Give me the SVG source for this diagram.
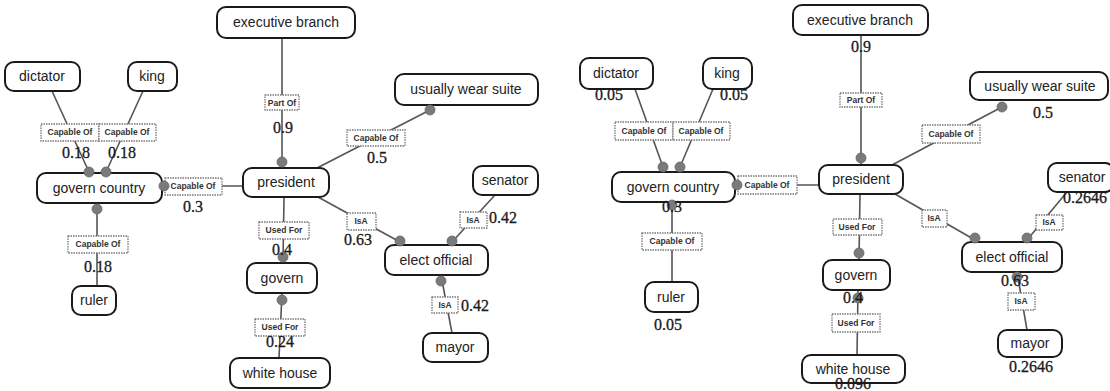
<svg xmlns="http://www.w3.org/2000/svg" width="1110" height="391" viewBox="0 0 1110 391">
  <style>
    .node rect { fill: #ffffff; stroke: #1a1a1a; stroke-width: 2; }
    .node text { font-family: "Liberation Sans", Arial, sans-serif; font-size: 14px; fill: #222; text-anchor: middle; }
    .edge { stroke: #555; stroke-width: 1.6; fill: none; }
    .dot { fill: #7a7a7a; stroke: #666; stroke-width: 0.8; }
    .rel rect { fill: #ffffff; stroke: #777; stroke-width: 1.3; stroke-dasharray: 1.5 1; }
    .rel text { font-family: "Liberation Sans", Arial, sans-serif; font-size: 8.5px; font-weight: bold; fill: #333; text-anchor: middle; }
    .w { font-family: "Liberation Serif", "Times New Roman", serif; font-size: 16px; fill: #1a1a1a; stroke: #1a1a1a; stroke-width: 0.3; text-anchor: middle; }
  </style>

  <!-- connector lines -->
  <g id="connectors">
    <!-- left graph -->
    <line class="edge" x1="52" y1="91" x2="89" y2="172"/>
    <line class="edge" x1="143" y1="91" x2="106" y2="172"/>
    <line class="edge" x1="282" y1="38" x2="282" y2="168"/>
    <line class="edge" x1="317" y1="168" x2="430" y2="110"/>
    <line class="edge" x1="162" y1="186" x2="243" y2="186"/>
    <line class="edge" x1="97" y1="203" x2="97" y2="286"/>
    <line class="edge" x1="284" y1="197" x2="283" y2="263"/>
    <line class="edge" x1="282" y1="293" x2="279" y2="358"/>
    <line class="edge" x1="318" y1="197" x2="400" y2="242"/>
    <line class="edge" x1="495" y1="195" x2="452" y2="242"/>
    <line class="edge" x1="441" y1="275" x2="452" y2="333"/>
    <!-- right graph -->
    <line class="edge" x1="635" y1="89" x2="663" y2="167"/>
    <line class="edge" x1="713" y1="89" x2="680" y2="167"/>
    <line class="edge" x1="861" y1="35" x2="861" y2="165"/>
    <line class="edge" x1="892" y1="165" x2="1002" y2="107"/>
    <line class="edge" x1="735" y1="185" x2="819" y2="185"/>
    <line class="edge" x1="672" y1="202" x2="672" y2="282"/>
    <line class="edge" x1="860" y1="194" x2="859" y2="260"/>
    <line class="edge" x1="858" y1="290" x2="857" y2="355"/>
    <line class="edge" x1="895" y1="194" x2="975" y2="240"/>
    <line class="edge" x1="1067" y1="192" x2="1027" y2="240"/>
    <line class="edge" x1="1017" y1="272" x2="1027" y2="330"/>
  </g>

  <!-- left graph nodes -->
  <g id="exec-branch-1" class="node"><rect x="217" y="7" width="138" height="31" rx="9"/><text x="286" y="27">executive branch</text></g>
  <g id="dictator-1" class="node"><rect x="5" y="62" width="75" height="29" rx="9"/><text x="42" y="81">dictator</text></g>
  <g id="king-1" class="node"><rect x="128" y="62" width="49" height="29" rx="9"/><text x="152" y="81">king</text></g>
  <g id="govern-country-1" class="node"><rect x="37" y="173" width="125" height="30" rx="9"/><text x="99" y="193">govern country</text></g>
  <g id="ruler-1" class="node"><rect x="72" y="286" width="44" height="29" rx="9"/><text x="94" y="305">ruler</text></g>
  <g id="president-1" class="node"><rect x="243" y="168" width="86" height="29" rx="9"/><text x="286" y="187">president</text></g>
  <g id="wear-suite-1" class="node"><rect x="395" y="74" width="143" height="31" rx="9"/><text x="466" y="94">usually wear suite</text></g>
  <g id="senator-1" class="node"><rect x="473" y="166" width="65" height="29" rx="9"/><text x="505" y="185">senator</text></g>
  <g id="elect-official-1" class="node"><rect x="385" y="245" width="103" height="30" rx="9"/><text x="436" y="265">elect official</text></g>
  <g id="govern-1" class="node"><rect x="247" y="263" width="70" height="30" rx="9"/><text x="282" y="283">govern</text></g>
  <g id="white-house-1" class="node"><rect x="230" y="358" width="100" height="30" rx="9"/><text x="280" y="378">white house</text></g>
  <g id="mayor-1" class="node"><rect x="423" y="333" width="65" height="29" rx="9"/><text x="455" y="352">mayor</text></g>

  <!-- right graph nodes -->
  <g id="exec-branch-2" class="node"><rect x="793" y="5" width="135" height="30" rx="9"/><text x="860" y="25">executive branch</text></g>
  <g id="dictator-2" class="node"><rect x="580" y="58" width="73" height="31" rx="9"/><text x="616" y="78">dictator</text></g>
  <g id="king-2" class="node"><rect x="703" y="58" width="49" height="31" rx="9"/><text x="727" y="78">king</text></g>
  <g id="govern-country-2" class="node"><rect x="612" y="172" width="123" height="30" rx="9"/><text x="673" y="192">govern country</text></g>
  <g id="ruler-2" class="node"><rect x="645" y="282" width="53" height="30" rx="9"/><text x="671" y="302">ruler</text></g>
  <g id="president-2" class="node"><rect x="819" y="165" width="84" height="29" rx="9"/><text x="861" y="184">president</text></g>
  <g id="wear-suite-2" class="node"><rect x="970" y="72" width="138" height="28" rx="9"/><text x="1040" y="91">usually wear suite</text></g>
  <g id="senator-2" class="node"><rect x="1048" y="163" width="66" height="29" rx="9"/><text x="1082" y="182">senator</text></g>
  <g id="elect-official-2" class="node"><rect x="962" y="242" width="100" height="30" rx="9"/><text x="1012" y="262">elect official</text></g>
  <g id="govern-2" class="node"><rect x="823" y="260" width="67" height="30" rx="9"/><text x="856" y="280">govern</text></g>
  <g id="white-house-2" class="node"><rect x="802" y="355" width="103" height="28" rx="9"/><text x="853" y="374">white house</text></g>
  <g id="mayor-2" class="node"><rect x="998" y="330" width="64" height="27" rx="9"/><text x="1030" y="348">mayor</text></g>

  <!-- relation labels on the connectors -->
  <g id="relations">
    <g class="rel"><rect x="265" y="95" width="34" height="15"/><text x="282" y="106">Part Of</text></g>
    <g class="rel"><rect x="347" y="130" width="58" height="16"/><text x="376" y="141">Capable Of</text></g>
    <g class="rel"><rect x="41" y="124" width="58" height="17"/><text x="70" y="135">Capable Of</text></g>
    <g class="rel"><rect x="99" y="124" width="57" height="17"/><text x="127" y="135">Capable Of</text></g>
    <g class="rel"><rect x="165" y="178" width="57" height="17"/><text x="193" y="189">Capable Of</text></g>
    <g class="rel"><rect x="68" y="236" width="60" height="17"/><text x="98" y="247">Capable Of</text></g>
    <g class="rel"><rect x="259" y="222" width="50" height="17"/><text x="284" y="233">Used For</text></g>
    <g class="rel"><rect x="255" y="319" width="50" height="17"/><text x="280" y="330">Used For</text></g>
    <g class="rel"><rect x="347" y="213" width="29" height="17"/><text x="361" y="224">IsA</text></g>
    <g class="rel"><rect x="460" y="212" width="27" height="16"/><text x="473" y="223">IsA</text></g>
    <g class="rel"><rect x="432" y="297" width="26" height="16"/><text x="445" y="308">IsA</text></g>

    <g class="rel"><rect x="840" y="93" width="42" height="14"/><text x="861" y="103">Part Of</text></g>
    <g class="rel"><rect x="922" y="125" width="58" height="18"/><text x="951" y="137">Capable Of</text></g>
    <g class="rel"><rect x="615" y="122" width="58" height="18"/><text x="644" y="134">Capable Of</text></g>
    <g class="rel"><rect x="673" y="122" width="57" height="18"/><text x="701" y="134">Capable Of</text></g>
    <g class="rel"><rect x="738" y="176" width="59" height="18"/><text x="767" y="188">Capable Of</text></g>
    <g class="rel"><rect x="642" y="233" width="60" height="17"/><text x="672" y="244">Capable Of</text></g>
    <g class="rel"><rect x="833" y="219" width="49" height="16"/><text x="857" y="230">Used For</text></g>
    <g class="rel"><rect x="832" y="314" width="48" height="18"/><text x="856" y="326">Used For</text></g>
    <g class="rel"><rect x="922" y="210" width="25" height="17"/><text x="934" y="221">IsA</text></g>
    <g class="rel"><rect x="1036" y="215" width="27" height="15"/><text x="1049" y="225">IsA</text></g>
    <g class="rel"><rect x="1008" y="293" width="27" height="17"/><text x="1021" y="304">IsA</text></g>
  </g>

  <!-- endpoint dots -->
  <g id="endpoints">
    <circle class="dot" cx="89" cy="172" r="5"/>
    <circle class="dot" cx="106" cy="172" r="5"/>
    <circle class="dot" cx="164" cy="186" r="5"/>
    <circle class="dot" cx="97" cy="209" r="5"/>
    <circle class="dot" cx="282" cy="162" r="5"/>
    <circle class="dot" cx="430" cy="110" r="5"/>
    <circle class="dot" cx="400" cy="241" r="5"/>
    <circle class="dot" cx="452" cy="241" r="5"/>
    <circle class="dot" cx="441" cy="281" r="5"/>
    <circle class="dot" cx="283" cy="257" r="5"/>
    <circle class="dot" cx="282" cy="300" r="5"/>

    <circle class="dot" cx="663" cy="167" r="5"/>
    <circle class="dot" cx="680" cy="167" r="5"/>
    <circle class="dot" cx="737" cy="185" r="5"/>
    <circle class="dot" cx="672" cy="205" r="5"/>
    <circle class="dot" cx="861" cy="158" r="5"/>
    <circle class="dot" cx="1002" cy="107" r="5"/>
    <circle class="dot" cx="975" cy="238" r="5"/>
    <circle class="dot" cx="1027" cy="238" r="5"/>
    <circle class="dot" cx="1017" cy="277" r="5"/>
    <circle class="dot" cx="859" cy="253" r="5"/>
    <circle class="dot" cx="858" cy="298" r="5"/>
  </g>

  <!-- weights -->
  <g id="weights">
    <text class="w" x="283" y="133">0.9</text>
    <text class="w" x="377" y="163">0.5</text>
    <text class="w" x="76" y="158">0.18</text>
    <text class="w" x="122" y="158">0.18</text>
    <text class="w" x="193" y="212">0.3</text>
    <text class="w" x="98" y="272">0.18</text>
    <text class="w" x="282" y="255">0.4</text>
    <text class="w" x="280" y="347">0.24</text>
    <text class="w" x="358" y="245">0.63</text>
    <text class="w" x="503" y="223">0.42</text>
    <text class="w" x="475" y="311">0.42</text>

    <text class="w" x="609" y="100">0.05</text>
    <text class="w" x="734" y="100">0.05</text>
    <text class="w" x="861" y="52">0.9</text>
    <text class="w" x="1043" y="118">0.5</text>
    <text class="w" x="672" y="212">0.3</text>
    <text class="w" x="668" y="330">0.05</text>
    <text class="w" x="853" y="303">0.4</text>
    <text class="w" x="853" y="389">0.096</text>
    <text class="w" x="1015" y="286">0.63</text>
    <text class="w" x="1031" y="372">0.2646</text>
    <text class="w" x="1085" y="203">0.2646</text>
  </g>
</svg>
